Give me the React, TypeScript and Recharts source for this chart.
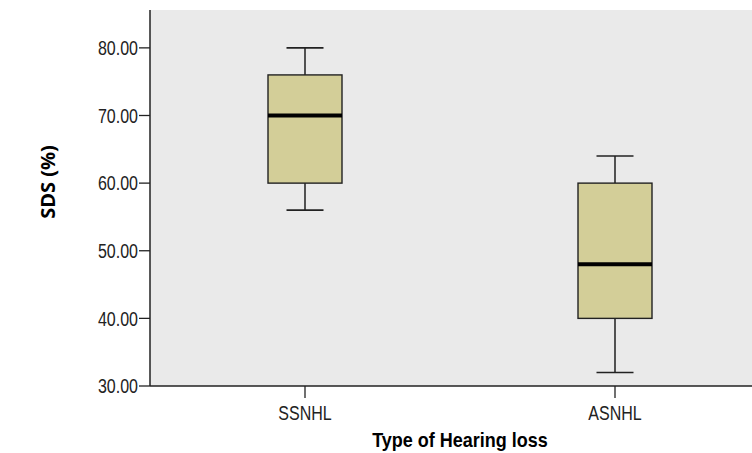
import { ComposedChart, Bar, XAxis, YAxis, CartesianGrid } from 'recharts'

// hearing loss groups and their box-plot five-number summaries (SDS %)
const groups = ['SSNHL', 'ASNHL']
const mins = [56, 32]
const q1s = [60, 40]
const medians = [70, 48]
const q3s = [76, 60]
const maxes = [80, 64]

const yTicks = [30, 40, 50, 60, 70, 80]

const data = groups.map((g, i) => ({
  group: g,
  min: mins[i],
  q1: q1s[i],
  median: medians[i],
  q3: q3s[i],
  max: maxes[i],
}))

const BOX_FILL = '#D3CE98'
const SANS = '"Liberation Sans", Arial, sans-serif'

function BoxShape(props: any) {
  const { x, y, width, height, payload } = props
  const span = payload.max - payload.min
  const toY = (v: number) => y + ((payload.max - v) / span) * height
  const cx = x + width / 2
  const capHalf = width / 4
  const yQ3 = toY(payload.q3)
  const yQ1 = toY(payload.q1)
  const yMed = toY(payload.median)
  const yMax = toY(payload.max)
  const yMin = toY(payload.min)
  return (
    <g>
      <line x1={cx} x2={cx} y1={yMax} y2={yQ3} stroke="#111" strokeWidth={1.4} />
      <line x1={cx} x2={cx} y1={yQ1} y2={yMin} stroke="#111" strokeWidth={1.4} />
      <line x1={cx - capHalf} x2={cx + capHalf} y1={yMax} y2={yMax} stroke="#222" strokeWidth={1.6} />
      <line x1={cx - capHalf} x2={cx + capHalf} y1={yMin} y2={yMin} stroke="#222" strokeWidth={1.6} />
      <rect x={x} y={yQ3} width={width} height={yQ1 - yQ3} fill={BOX_FILL} stroke="#222" strokeWidth={1.4} />
      <line x1={x} x2={x + width} y1={yMed} y2={yMed} stroke="#000" strokeWidth={4} />
    </g>
  )
}

// narrow-looking tick text: regular sans squeezed horizontally
function YTick(props: any) {
  const { x, y, payload } = props
  return (
    <text
      transform={`translate(${x}, ${y}) scale(0.8, 1)`}
      textAnchor="end"
      dy="0.36em"
      fontFamily={SANS}
      fontSize={20}
      fill="#222"
    >
      {Number(payload.value).toFixed(2)}
    </text>
  )
}

function XTick(props: any) {
  const { x, y, payload } = props
  return (
    <text
      transform={`translate(${x}, ${y}) scale(0.8, 1)`}
      textAnchor="middle"
      dy="0.95em"
      fontFamily={SANS}
      fontSize={20}
      fill="#222"
    >
      {payload.value}
    </text>
  )
}

function XTitle(props: any) {
  const { viewBox } = props
  const cx = viewBox.x + viewBox.width / 2
  return (
    <text
      transform={`translate(${cx}, 447) scale(0.9, 1)`}
      textAnchor="middle"
      fontFamily={SANS}
      fontWeight={700}
      fontSize={20}
      fill="#000"
    >
      Type of Hearing loss
    </text>
  )
}

function YTitle(props: any) {
  const { viewBox } = props
  const cy = viewBox.y + viewBox.height / 2 - 16
  return (
    <text
      x={55}
      y={cy}
      transform={`rotate(-90, 55, ${cy})`}
      textAnchor="middle"
      fontFamily='"Open Sans", sans-serif'
      fontWeight={700}
      fontSize={20}
      fill="#000"
    >
      SDS (%)
    </text>
  )
}

export default function App() {
  return (
    <div style={{ width: 752, height: 453, overflow: 'hidden' }}>
      <style>{'html, body { margin: 0; padding: 0; }'}</style>
      <ComposedChart
        width={770}
        height={453}
        data={data}
        margin={{ top: 10, right: 0, bottom: 0, left: 0 }}
      >
        <CartesianGrid fill="#EAEAEA" horizontal={false} vertical={false} />
        <XAxis
          xAxisId="top"
          orientation="top"
          dataKey="group"
          height={0}
          tick={false}
          tickLine={false}
          axisLine={{ stroke: '#222', strokeWidth: 1.5 }}
        />
        <XAxis
          dataKey="group"
          height={67}
          tickSize={12}
          tickMargin={3}
          axisLine={{ stroke: '#222', strokeWidth: 1.5 }}
          tickLine={{ stroke: '#222', strokeWidth: 1.3 }}
          tick={XTick}
          label={{ content: XTitle }}
        />
        <YAxis
          width={150}
          domain={[30, 85.6]}
          ticks={yTicks}
          allowDataOverflow
          tickSize={11}
          tickMargin={1}
          axisLine={{ stroke: '#222', strokeWidth: 1.5 }}
          tickLine={{ stroke: '#222', strokeWidth: 1.3 }}
          tick={YTick}
          label={{ content: YTitle }}
        />
        <Bar
          dataKey={(d: any) => [d.min, d.max]}
          barSize={74}
          shape={BoxShape}
          isAnimationActive={false}
        />
      </ComposedChart>
    </div>
  )
}
